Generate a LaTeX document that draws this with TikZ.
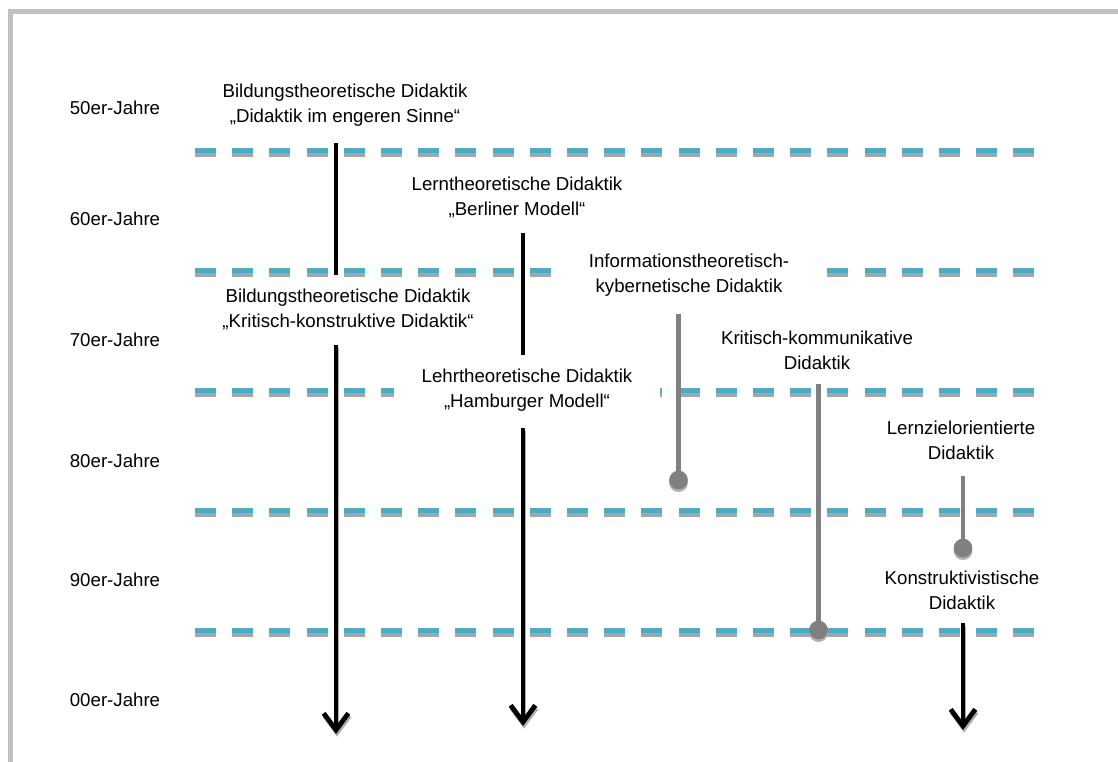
\documentclass[tikz,border=0pt]{standalone}
\usepackage{fontspec}
\setmainfont{Liberation Sans}
\usetikzlibrary{arrows.meta, shadows}
\definecolor{dashcyan}{RGB}{75,172,198}
\definecolor{dashshade}{RGB}{165,165,165}
\definecolor{linegray}{RGB}{128,128,128}
\definecolor{framegray}{RGB}{192,192,192}
\definecolor{shadegray}{RGB}{175,175,175}

\begin{document}
\begin{tikzpicture}[x=0.75pt, y=-0.75pt, font=\fontsize{14}{18.75}\selectfont,
    decade/.style={inner sep=0pt},
    label/.style={align=center, inner sep=2pt},
    cover/.style={label, fill=white, minimum height=40pt, minimum width=#1},
    divider/.style={line width=3.75pt, dash pattern=on 15.75pt off 12.15pt},
    mainline/.style={line width=3.6pt, draw=#1},
    mainarrow/.style={mainline=#1, -{Straight Barb[length=12.5pt, width=18.5pt]}},
    sideline/.style={line width=3.6pt, linegray},
    enddot/.style={circle, fill=linegray, inner sep=0pt, minimum size=14pt,
                   drop shadow={shadow xshift=0pt, shadow yshift=-2pt,
                                fill=shadegray, opacity=1}}]

\useasboundingbox (0,0) rectangle (1118,762);

% Frame
\draw[framegray, line width=3.75pt] (10.5,762) -- (10.5,11.5) -- (1118,11.5);

% ════════════════════════════════════════
%  Decades and dividers
% ════════════════════════════════════════

\node[decade] (d50) at (115,108) {50er-Jahre};
\node[decade] (d60) at (115,219) {60er-Jahre};
\node[decade] (d70) at (115,340) {70er-Jahre};
\node[decade] (d80) at (115,461) {80er-Jahre};
\node[decade] (d90) at (115,580) {90er-Jahre};
\node[decade] (d00) at (115,700) {00er-Jahre};

\foreach \y in {150.5,270.5,390.5,510.5,630.5} {
  \draw[divider, dashshade] (195,\y+4) -- (1035,\y+4);
  \draw[divider, dashcyan] (195,\y) -- (1035,\y);
}

% ════════════════════════════════════════
%  Labels (white ones hide the dividers)
% ════════════════════════════════════════

\node[label] (bild1) at (345,105) {Bildungstheoretische Didaktik\\„Didaktik im engeren Sinne“};
\node[label] (lern) at (517,197.5) {Lerntheoretische Didaktik\\„Berliner Modell“};
\node[label] (bild2) at (348,309.5) {Bildungstheoretische Didaktik\\„Kritisch-konstruktive Didaktik“};
\node[cover=207pt] (info) at (689,275) {Informationstheoretisch-\\kybernetische Didaktik};
\node[label] (krit) at (817,350) {Kritisch-kommunikative\\Didaktik};
\node[cover=199pt] (lehr) at (527,390.5) {Lehrtheoretische Didaktik\\„Hamburger Modell“};
\node[label] (ziel) at (961,440) {Lernzielorientierte\\Didaktik};
\node[label] (kons) at (962,590.5) {Konstruktivistische\\Didaktik};

% ════════════════════════════════════════
%  Black lines and arrows
% ════════════════════════════════════════

\coordinate (bild1a) at (336,143);
\coordinate (bild1b) at (336,275);
\coordinate (bild2a) at (336,345);
\coordinate (bild2b) at (336,734);
\coordinate (lerna) at (523,233);
\coordinate (lernb) at (523,355);
\coordinate (lehra) at (523,428);
\coordinate (lehrb) at (523,726);
\coordinate (konsa) at (963,623);
\coordinate (konsb) at (963,730);

\draw[mainline=black] (bild1a) -- (bild1b);
\draw[mainline=black] (lerna) -- (lernb);

% arrow shadows first
\foreach \a/\b in {bild2a/bild2b, lehra/lehrb, konsa/konsb}
  \draw[mainarrow=shadegray, transform canvas={shift={(0.8pt,-2pt)}}] (\a) -- (\b);
\foreach \a/\b in {bild2a/bild2b, lehra/lehrb, konsa/konsb}
  \draw[mainarrow=black] (\a) -- (\b);

% ════════════════════════════════════════
%  Gray lines ending in a dot
% ════════════════════════════════════════

\coordinate (infoa) at (678.5,314);
\coordinate (infob) at (678.5,480);
\coordinate (krita) at (818.5,384);
\coordinate (kritb) at (818.5,630);
\coordinate (ziela) at (963,476);
\coordinate (zielb) at (963,548);

\draw[sideline] (infoa) -- (infob);
\draw[sideline] (krita) -- (kritb);
\draw[sideline] (ziela) -- (zielb);

\node[enddot] (infodot) at (infob) {};
\node[enddot] (kritdot) at (kritb) {};
\node[enddot] (zieldot) at (zielb) {};

\end{tikzpicture}
\end{document}
